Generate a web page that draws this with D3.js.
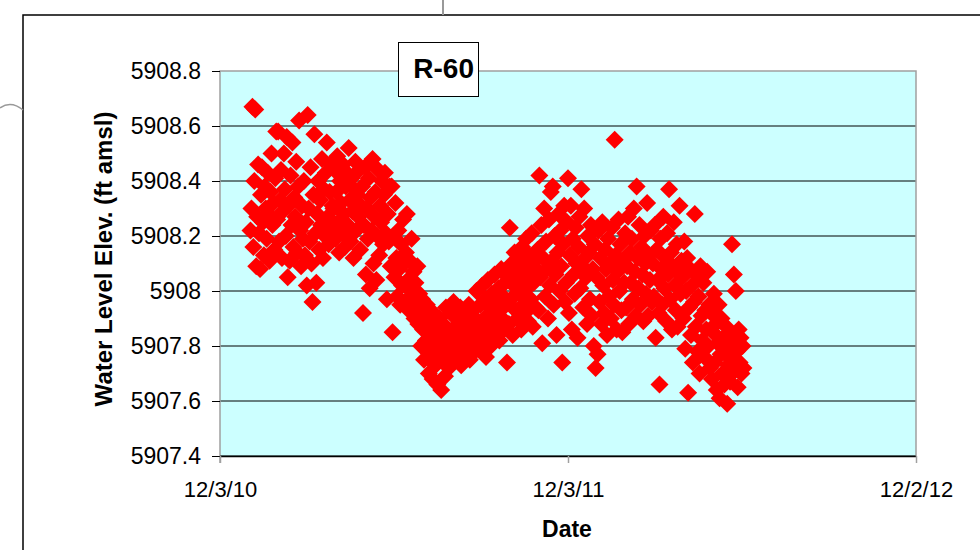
<!DOCTYPE html>
<html>
<head>
<meta charset="utf-8">
<script src="https://cdn.jsdelivr.net/npm/d3@7"></script>
<style>
    body { margin: 0; background: #ffffff; }
    text { font-family: "Liberation Sans", Arial, sans-serif; fill: #000; }
    .tick-label { font-size: 23px; }
    .axis-title { font-size: 24px; font-weight: bold; }
</style>
</head>
<body>
<svg id="chart" width="980" height="550"></svg>
<script>
// axis ticks
const xTicks = ["2010-12-03", "2011-12-03", "2012-12-02"];
const yTicks = [5907.4, 5907.6, 5907.8, 5908.0, 5908.2, 5908.4, 5908.6, 5908.8];

// daily water level readings (ft amsl), one array per month
const jan11 = [5908.22, 5908.30, 5908.67, 5908.16, 5908.40, 5908.66, 5908.09, 5908.27, 5908.46, 5908.21, 5908.08, 5908.35, 5908.45, 5908.25, 5908.13, 5908.38, 5908.30, 5908.19, 5908.43, 5908.28, 5908.11, 5908.36, 5908.50, 5908.24, 5908.32, 5908.15, 5908.41, 5908.58];
const feb11 = [5908.26, 5908.58, 5908.18, 5908.33, 5908.44, 5908.12, 5908.29, 5908.50, 5908.37, 5908.20, 5908.56, 5908.05, 5908.31, 5908.11, 5908.42, 5908.24, 5908.54, 5908.16, 5908.34, 5908.27, 5908.47, 5908.14, 5908.38, 5908.62, 5908.22, 5908.09, 5908.31, 5908.19];
const mar11 = [5908.40, 5908.13, 5908.25, 5908.02, 5908.64, 5908.30, 5908.18, 5908.45, 5908.10, 5907.96, 5908.35, 5908.57, 5908.21, 5908.03, 5908.28, 5908.40, 5908.15, 5908.33, 5908.24, 5908.48, 5908.12, 5908.37, 5908.20, 5908.43, 5908.54, 5908.27, 5908.17, 5908.36, 5908.46, 5908.23, 5908.31];
const apr11 = [5908.30, 5908.44, 5908.19, 5908.36, 5908.49, 5908.25, 5908.14, 5908.40, 5908.32, 5908.21, 5908.46, 5908.28, 5908.16, 5908.38, 5908.43, 5908.24, 5908.52, 5908.33, 5908.18, 5908.41, 5908.29, 5908.12, 5908.37, 5908.47, 5908.22, 5908.35, 5908.27, 5908.44, 5908.15, 5908.31];
const may11 = [5908.38, 5907.92, 5908.24, 5908.45, 5908.06, 5908.30, 5908.19, 5908.41, 5908.01, 5908.34, 5908.22, 5908.48, 5908.10, 5908.27, 5908.36, 5908.04, 5908.20, 5908.44, 5908.13, 5908.31, 5908.25, 5908.40, 5908.17, 5908.35, 5908.43, 5908.21, 5907.97, 5908.28, 5908.18, 5908.38, 5908.09];
const jun11 = [5908.38, 5907.85, 5908.20, 5908.05, 5908.32, 5908.12, 5907.98, 5908.22, 5908.08, 5907.95, 5908.17, 5908.02, 5908.26, 5908.10, 5907.96, 5908.14, 5908.28, 5908.04, 5907.93, 5908.11, 5908.00, 5908.19, 5907.97, 5908.07, 5907.90, 5908.03, 5907.94, 5908.09, 5907.88, 5907.99];
const jul11 = [5907.92, 5907.80, 5907.97, 5907.86, 5907.75, 5907.90, 5907.82, 5907.95, 5907.78, 5907.70, 5907.88, 5907.84, 5907.76, 5907.68, 5907.92, 5907.80, 5907.73, 5907.86, 5907.66, 5907.79, 5907.90, 5907.83, 5907.64, 5907.75, 5907.88, 5907.81, 5907.69, 5907.94, 5907.77, 5907.85, 5907.72];
const aug11 = [5907.80, 5907.92, 5907.74, 5907.86, 5907.96, 5907.78, 5907.83, 5907.90, 5907.76, 5907.88, 5907.81, 5907.94, 5907.73, 5907.85, 5907.79, 5907.91, 5907.84, 5907.77, 5907.89, 5907.82, 5907.95, 5907.75, 5907.87, 5907.80, 5907.93, 5907.84, 5907.78, 5907.90, 5908.00, 5907.83, 5907.88];
const sep11 = [5907.86, 5907.95, 5907.79, 5908.02, 5907.88, 5907.83, 5907.97, 5907.76, 5907.91, 5908.04, 5907.85, 5907.94, 5907.80, 5907.99, 5907.87, 5907.92, 5908.06, 5907.84, 5907.96, 5907.89, 5908.01, 5907.82, 5907.93, 5908.08, 5907.90, 5907.98, 5907.86, 5908.03, 5907.95, 5907.74];
const oct11 = [5908.05, 5907.88, 5908.23, 5907.97, 5908.10, 5907.84, 5908.02, 5908.14, 5907.93, 5908.07, 5907.90, 5908.12, 5907.99, 5908.04, 5907.86, 5908.16, 5907.95, 5908.09, 5907.92, 5908.19, 5908.01, 5907.89, 5908.13, 5908.06, 5907.97, 5908.21, 5907.87, 5908.03, 5908.11, 5907.94, 5908.08];
const nov11 = [5908.15, 5907.93, 5908.42, 5908.05, 5908.24, 5907.81, 5908.12, 5908.30, 5907.98, 5908.18, 5908.08, 5907.90, 5908.26, 5908.02, 5908.36, 5908.11, 5908.38, 5907.95, 5908.20, 5908.06, 5907.84, 5908.14, 5908.28, 5908.00, 5908.22, 5908.09, 5907.74, 5908.17, 5908.31, 5907.96];
const dec11 = [5908.03, 5908.25, 5908.41, 5907.92, 5908.13, 5908.31, 5907.86, 5908.19, 5908.06, 5907.99, 5908.23, 5908.10, 5907.83, 5908.16, 5908.27, 5908.01, 5908.37, 5908.09, 5907.94, 5908.30, 5908.12, 5908.05, 5907.88, 5908.20, 5908.14, 5907.97, 5908.24, 5907.91, 5908.08, 5907.80, 5908.17];
const jan12 = [5907.72, 5908.05, 5907.77, 5908.22, 5907.96, 5908.12, 5907.88, 5908.25, 5908.02, 5907.92, 5908.15, 5908.08, 5907.84, 5908.19, 5907.98, 5908.10, 5907.90, 5908.23, 5908.04, 5907.95, 5908.55, 5908.13, 5907.86, 5908.07, 5908.26, 5908.00, 5908.17, 5907.93, 5907.85, 5908.11, 5908.03];
const feb12 = [5908.21, 5907.94, 5908.09, 5908.27, 5907.88, 5908.14, 5908.03, 5908.19, 5907.97, 5908.30, 5908.07, 5907.91, 5908.38, 5908.12, 5908.01, 5908.24, 5907.95, 5908.16, 5908.06, 5907.89, 5908.20, 5908.10, 5907.99, 5908.32, 5907.91, 5908.13, 5908.04, 5908.22, 5907.96];
const mar12 = [5908.10, 5907.98, 5908.24, 5907.83, 5908.15, 5908.04, 5907.92, 5907.66, 5908.19, 5908.08, 5907.95, 5908.27, 5908.01, 5908.12, 5907.89, 5908.21, 5908.06, 5908.37, 5907.97, 5908.14, 5907.86, 5908.09, 5908.25, 5908.02, 5907.93, 5908.17, 5907.87, 5908.07, 5908.31, 5907.99, 5908.11];
const apr12 = [5908.05, 5907.90, 5908.18, 5907.79, 5908.00, 5908.12, 5907.63, 5907.94, 5908.08, 5907.84, 5908.02, 5907.74, 5907.96, 5908.28, 5907.87, 5908.06, 5907.78, 5907.98, 5907.70, 5908.09, 5907.91, 5907.82, 5908.03, 5907.76, 5907.93, 5907.86, 5908.07, 5907.80, 5907.95, 5907.72];
const may12 = [5907.92, 5907.68, 5907.85, 5907.99, 5907.74, 5907.88, 5907.64, 5907.81, 5907.95, 5907.61, 5907.77, 5907.90, 5907.70, 5907.83, 5907.66, 5907.79, 5907.87, 5907.59, 5907.73, 5907.84, 5907.67, 5907.75, 5908.17, 5907.82, 5908.06, 5907.71, 5908.00, 5907.78, 5907.65, 5907.86, 5907.74];
const jun12 = [5907.83, 5907.70, 5907.80, 5907.72];

const months = [
    ["2011-01-04", jan11], ["2011-02-01", feb11], ["2011-03-01", mar11],
    ["2011-04-01", apr11], ["2011-05-01", may11], ["2011-06-01", jun11],
    ["2011-07-01", jul11], ["2011-08-01", aug11], ["2011-09-01", sep11],
    ["2011-10-01", oct11], ["2011-11-01", nov11], ["2011-12-01", dec11],
    ["2012-01-01", jan12], ["2012-02-01", feb12], ["2012-03-01", mar12],
    ["2012-04-01", apr12], ["2012-05-01", may12], ["2012-06-01", jun12]
];

const parse = d3.timeParse("%Y-%m-%d");

const points = [];
months.forEach(function(m) {
    const start = parse(m[0]);
    m[1].forEach(function(v, i) {
        points.push({ date: d3.timeDay.offset(start, i), level: v });
    });
});

// Title Plot box
const plot = { left: 220, top: 71, right: 916, bottom: 456 };

const svg = d3.select("#chart");

const x = d3.scaleTime()
    .domain([parse(xTicks[0]), parse(xTicks[xTicks.length - 1])])
    .range([plot.left, plot.right]);

const y = d3.scaleLinear()
    .domain([yTicks[0], yTicks[yTicks.length - 1]])
    .range([plot.bottom, plot.top]);

// outer frame bits
svg.append("path")
    .attr("d", "M23,550 L23,15 L980,15")
    .attr("fill", "none")
    .attr("stroke", "#000")
    .attr("stroke-width", 1.5);

svg.append("line")
    .attr("x1", 443).attr("x2", 443)
    .attr("y1", 0).attr("y2", 15)
    .attr("stroke", "#999")
    .attr("stroke-width", 2);

svg.append("path")
    .attr("d", "M0,108 Q11,100 23,110")
    .attr("fill", "none")
    .attr("stroke", "#999")
    .attr("stroke-width", 1.5);

// plot background
svg.append("rect")
    .attr("x", plot.left)
    .attr("y", plot.top)
    .attr("width", plot.right - plot.left)
    .attr("height", plot.bottom - plot.top)
    .attr("fill", "#ccffff");

// gridlines
svg.append("g")
    .selectAll("line")
    .data(yTicks.slice(0, -1))
    .join("line")
    .attr("x1", plot.left)
    .attr("x2", plot.right)
    .attr("y1", d => y(d))
    .attr("y2", d => y(d))
    .attr("stroke", "#000")
    .attr("stroke-width", 1);

// gray border left, top, right
svg.append("path")
    .attr("d", `M${plot.left},${plot.bottom + 7} L${plot.left},${plot.top} L${plot.right},${plot.top} L${plot.right},${plot.bottom}`)
    .attr("fill", "none")
    .attr("stroke", "#a0a0a0")
    .attr("stroke-width", 1.5);

// y axis
const yAxis = svg.append("g")
    .attr("transform", `translate(${plot.left},0)`)
    .call(d3.axisLeft(y)
        .tickValues(yTicks)
        .tickSize(8)
        .tickPadding(11)
        .tickFormat(d => String(+d.toFixed(1))));

yAxis.select(".domain").remove();
yAxis.selectAll(".tick line").attr("stroke", "#000");
yAxis.selectAll(".tick text")
    .attr("class", "tick-label")
    .attr("font-family", null)
    .attr("font-size", null);

// x axis
const xAxis = svg.append("g")
    .attr("transform", `translate(0,${plot.bottom})`)
    .call(d3.axisBottom(x)
        .tickValues(xTicks.map(parse))
        .tickSize(7)
        .tickPadding(18)
        .tickFormat(d3.timeFormat("%-m/%-d/%y")));

xAxis.select(".domain")
    .attr("d", `M${plot.left},0.5H${plot.right}`)
    .attr("stroke", "#000")
    .attr("stroke-width", 1.5);
xAxis.selectAll(".tick line")
    .attr("stroke", "#a0a0a0")
    .attr("stroke-width", 1.5);
xAxis.selectAll(".tick text")
    .attr("class", "tick-label")
    .style("font-size", "22px")
    .attr("font-family", null)
    .attr("font-size", null);

// data markers
svg.append("g")
    .selectAll("path")
    .data(points)
    .join("path")
    .attr("transform", d => `translate(${x(d.date)},${y(d.level)})`)
    .attr("d", "M0,-9L9,0L0,9L-9,0Z")
    .attr("fill", "#ff0000");

// axis titles
svg.append("text")
    .attr("class", "axis-title")
    .attr("x", 567)
    .attr("y", 537)
    .attr("text-anchor", "middle")
    .style("font-size", "23px")
    .text("Date");

svg.append("text")
    .attr("class", "axis-title")
    .attr("transform", "translate(112,259) rotate(-90)")
    .attr("text-anchor", "middle")
    .text("Water Level Elev. (ft amsl)");

// well label box
svg.append("rect")
    .attr("x", 398.5)
    .attr("y", 42.5)
    .attr("width", 80)
    .attr("height", 54)
    .attr("fill", "#fff")
    .attr("stroke", "#000")
    .attr("stroke-width", 1);

svg.append("text")
    .attr("x", 474)
    .attr("y", 78)
    .attr("text-anchor", "end")
    .style("font-size", "28px")
    .style("font-weight", "bold")
    .text("R-60");
</script>
</body>
</html>
